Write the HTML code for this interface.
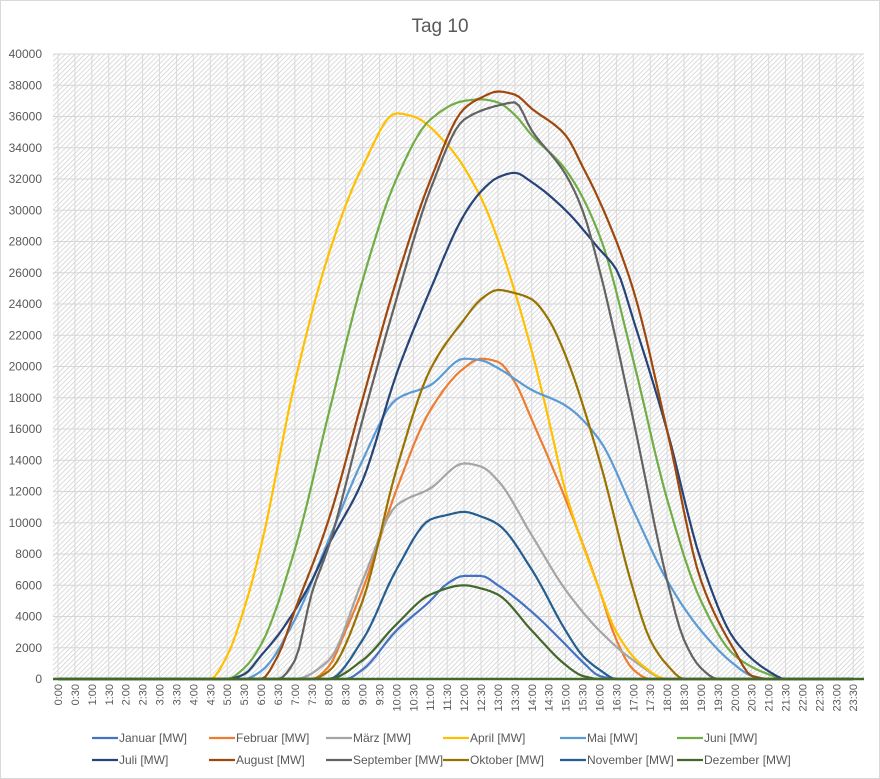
<!DOCTYPE html>
<html><head><meta charset="utf-8"><style>
body{margin:0;background:#fff;}
svg{display:block;font-family:"Liberation Sans",sans-serif;}
</style></head><body>
<svg id="c" width="880" height="779" viewBox="0 0 880 779" xmlns="http://www.w3.org/2000/svg">
<defs>
<pattern id="h" width="3.5" height="3.5" patternUnits="userSpaceOnUse" patternTransform="rotate(45)">
<rect width="4" height="4" fill="#fff"/><line x1="0" y1="0" x2="0" y2="4" stroke="#cfcfcf" stroke-width="1.5"/>
</pattern>
</defs>
<rect x="0.5" y="0.5" width="879" height="778" fill="#fff" stroke="#d9d9d9"/>
<text x="440" y="32" text-anchor="middle" font-size="19" fill="#595959">Tag 10</text>
<rect x="53" y="54" width="811" height="625" fill="url(#h)"/>
<g id="grid"></g>
<g id="yl" font-size="12" fill="#595959" text-anchor="end"></g>
<g id="xl" font-size="11" fill="#595959"></g>
<g id="lines" fill="none" stroke-width="2.2" stroke-linejoin="round"></g>
<g id="leg" font-size="12" fill="#595959"></g>
</svg>
<script>
var NS="http://www.w3.org/2000/svg";
function el(p,t,a,tx){var e=document.createElementNS(NS,t);for(var k in a)e.setAttribute(k,a[k]);if(tx!=null)e.textContent=tx;document.getElementById(p).appendChild(e);return e;}
function X(t){return 58+t*33.84;}
function Y(v){return 679-v*0.015625;}
for(var i=0;i<=20;i++){var y=Y(i*2000);
 if(i>0)el("grid","line",{x1:53,x2:864,y1:y,y2:y,stroke:"#d6d6d6","stroke-width":1});
 el("yl","text",{x:42,y:y+4},String(i*2000));}
for(var i=0;i<48;i++){var x=X(i/2);
 el("grid","line",{x1:x,x2:x,y1:54,y2:679,stroke:"#d9d9d9","stroke-width":1});
 var h=Math.floor(i/2),lab=h+":"+(i%2?"30":"00");
 el("xl","text",{x:0,y:0,transform:"translate("+(x+4)+",684) rotate(-90)","text-anchor":"end"},lab);}
var S=[
["Januar","#4472c4",[[8.5,0],[9,600],[10,3100],[11,5000],[11.5,6100],[12,6600],[12.5,6600],[13,6000],[14,4300],[15,2200],[15.5,1100],[16,200],[16.5,0]]],
["Februar","#ed7d31",[[7.5,0],[8,800],[8.5,3100],[9,5700],[10,12100],[11,17200],[12,19900],[12.5,20500],[13,20300],[13.5,19000],[14,16600],[15,11500],[16,5700],[16.5,2500],[17,600],[17.5,0]]],
["März","#a5a5a5",[[7,0],[8,1200],[9,6300],[10,11100],[11,12200],[12,13800],[12.5,13600],[13,12700],[14,9200],[15,5700],[16,3100],[17,1200],[18,0]]],
["April","#ffc000",[[4.5,0],[5,1500],[5.5,4500],[6,8500],[7,19000],[8,27200],[9,32800],[10,36200],[10.5,36000],[11.5,34200],[12.5,30800],[13,28100],[14,21000],[14.5,16600],[15,12000],[16,5700],[16.5,3000],[17.2,1000],[18,0]]],
["Mai","#5b9bd5",[[5.5,0],[6,500],[7,3800],[8,8900],[9,14000],[10,17900],[11,18800],[12,20500],[12.5,20400],[13,19900],[14,18500],[15,17500],[16,15300],[17,10800],[18,6300],[19,3100],[20,900],[20.5,200],[21,0]]],
["Juni","#70ad47",[[5,0],[5.5,700],[6,2200],[7,8300],[8,17000],[9,25500],[10,32000],[11,35800],[12,37000],[12.5,37100],[13,36900],[13.5,36100],[14,34800],[15,32600],[16,28400],[17,20400],[18,11500],[19,5000],[20,1500],[21,300],[21.5,0]]],
["Juli","#264478",[[5,0],[5.5,300],[6,1500],[6.5,2800],[7,4400],[7.5,6300],[8,8600],[9,12700],[10,19500],[11,24900],[12,29700],[12.5,31200],[13,32100],[13.5,32400],[14,31800],[15,30000],[16,27500],[16.5,26200],[17,23000],[18,15900],[19,7600],[20,2500],[21,500],[21.5,0]]],
["August","#9e480e",[[6,0],[6.5,1500],[7,4400],[8,10200],[9,17900],[10,25500],[11,31900],[12,36500],[12.5,37200],[13,37600],[13.5,37400],[14,36500],[15,34800],[15.5,32800],[16,30600],[17,24900],[18,15900],[19,6300],[20,1800],[20.5,200],[21,0]]],
["September","#636363",[[6.5,0],[7,1200],[7.5,5500],[8,8500],[9,16600],[10,24300],[11,31300],[12,35800],[13,36700],[13.5,36900],[14,35100],[15,32300],[15.5,30000],[16,26200],[17,16600],[18,6300],[18.5,2500],[19,700],[19.5,0]]],
["Oktober","#997300",[[7.5,0],[8,500],[9,5000],[10,13400],[11,19800],[12,23000],[12.5,24300],[13,24900],[13.5,24700],[14,24300],[14.5,23000],[15,20700],[16,14000],[17,5700],[17.5,2500],[18,900],[18.5,0]]],
["November","#255e91",[[8,0],[9,2500],[10,7000],[11,10200],[11.5,10500],[12,10700],[12.5,10400],[13,9900],[14,7000],[15,3100],[15.5,1500],[16,600],[16.5,0]]],
["Dezember","#43682b",[[8,0],[9,1200],[10,3500],[11,5400],[12,6000],[12.5,5800],[13,5400],[14,3100],[15,900],[15.5,200],[16,0]]]
];
function mono(p){var n=p.length,d=[],m=[];for(var i=0;i<n-1;i++)d.push((p[i+1][1]-p[i][1])/(p[i+1][0]-p[i][0]));
 m[0]=0;m[n-1]=0;for(var i=1;i<n-1;i++){if(d[i-1]*d[i]<=0)m[i]=0;else{var w1=2*(p[i+1][0]-p[i][0])+(p[i][0]-p[i-1][0]),w2=(p[i+1][0]-p[i][0])+2*(p[i][0]-p[i-1][0]);m[i]=(w1+w2)/(w1/d[i-1]+w2/d[i]);}}
 return function(t){if(t<=p[0][0]||t>=p[n-1][0])return 0;for(var i=0;i<n-1;i++){if(t<=p[i+1][0]){var h=p[i+1][0]-p[i][0],s=(t-p[i][0])/h,s2=s*s,s3=s2*s;
 return Math.max(0,(2*s3-3*s2+1)*p[i][1]+(s3-2*s2+s)*h*m[i]+(-2*s3+3*s2)*p[i+1][1]+(s3-s2)*h*m[i+1]);}}return 0;};}
S.forEach(function(s,k){var f=mono(s[2]),pts=[];for(var i=0;i<=47*4;i++){var t=i/8;pts.push(X(t).toFixed(1)+","+Y(f(t)).toFixed(1));}
 el("lines","polyline",{points:pts.join(" "),stroke:s[1]});
 var col=k%6,row=Math.floor(k/6),lx=92+col*117,ly=row?760:738;
 el("leg","line",{x1:lx,x2:lx+26,y1:ly,y2:ly,stroke:s[1],"stroke-width":2.2});
 el("leg","text",{x:lx+27,y:ly+4},s[0]+" [MW]");});
el("lines","line",{x1:53,x2:864,y1:679,y2:679,stroke:"#43682b","stroke-width":2.5});
</script>
</body></html>
